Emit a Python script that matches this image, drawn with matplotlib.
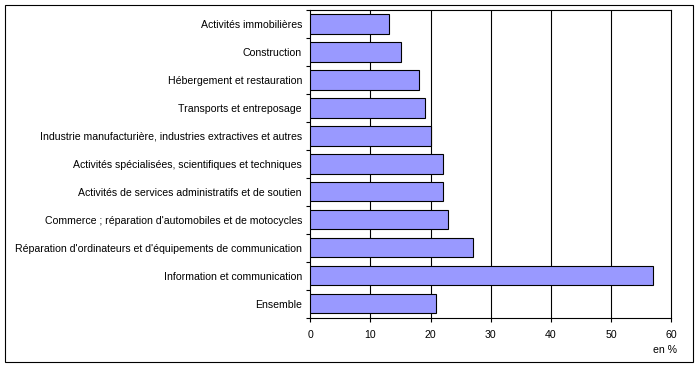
import matplotlib.pyplot as plt
from matplotlib.patches import Rectangle
import numpy as np

plt.rcParams['font.family'] = ['Liberation Sans', 'DejaVu Sans']

# Categories from top to bottom
categories = [
    "Activités immobilières",
    "Construction",
    "Hébergement et restauration",
    "Transports et entreposage",
    "Industrie manufacturière, industries extractives et autres",
    "Activités spécialisées, scientifiques et techniques",
    "Activités de services administratifs et de soutien",
    "Commerce ; réparation d'automobiles et de motocycles",
    "Réparation d'ordinateurs et d'équipements de communication",
    "Information et communication",
    "Ensemble",
]
values = [13.0, 15.0, 18.0, 19.1, 20.0, 22.0, 22.0, 22.9, 27.1, 57.0, 20.9]
x_ticks = [0, 10, 20, 30, 40, 50, 60]

fs = 7.55

fig = plt.figure(figsize=(7, 3.66), dpi=100)
ax = fig.add_axes([310.3 / 700, 1 - 317.7 / 366, 361 / 700, 307.7 / 366])

n = len(categories)
y = np.arange(n)[::-1]  # first category at top
ax.barh(y, values, height=0.69, color='#9999FF', edgecolor='black', linewidth=0.8, zorder=3)

ax.set_xlim(0, 60)
ax.set_ylim(-0.5, n - 0.5)
ax.set_xticks(x_ticks)
ax.set_xticklabels([str(t) for t in x_ticks], fontsize=fs)
ax.set_yticks(y)
ax.set_yticklabels(categories, fontsize=fs)
ax.set_yticks(np.arange(n + 1) - 0.5, minor=True)

# vertical grid lines
for t in x_ticks[1:-1]:
    ax.axvline(t, color='black', linewidth=0.8, zorder=1)

ax.tick_params(axis='y', which='major', length=0, pad=6)
ax.tick_params(axis='y', which='minor', length=3, width=0.8, direction='out')
ax.tick_params(axis='x', which='major', length=3, width=0.8, direction='out', pad=6)

for s in ax.spines.values():
    s.set_linewidth(0.8)
    s.set_color('black')

fig.text(677 / 700, 1 - 350 / 366, "en %", ha='right', va='center', fontsize=fs)

# frame around the whole figure
fig.patches.append(Rectangle((5 / 700, 1 - 362 / 366), 688 / 700, 357 / 366,
                             transform=fig.transFigure, fill=False,
                             edgecolor='black', linewidth=0.8))

fig.savefig('out.png', dpi=100)
